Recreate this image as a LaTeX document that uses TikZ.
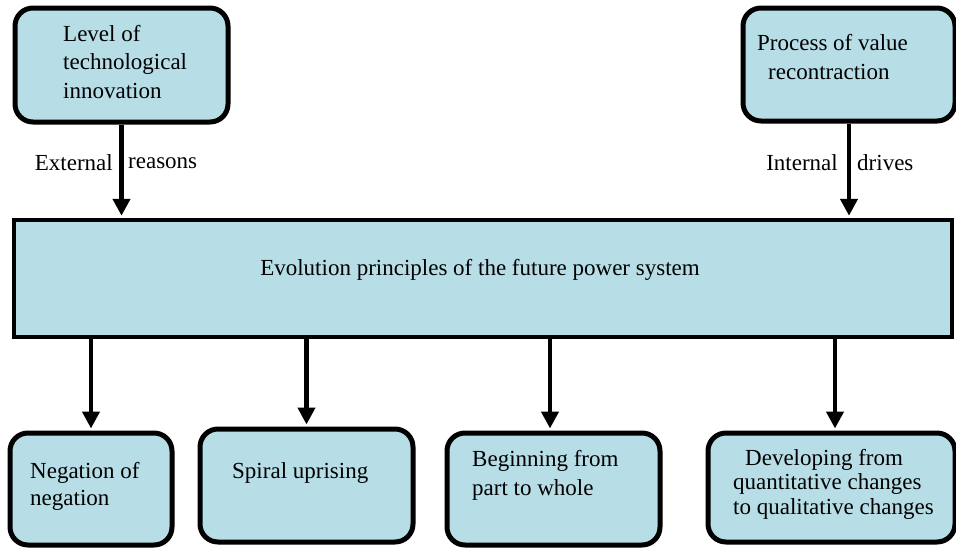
\documentclass[tikz,border=0pt]{standalone}
\usepackage{fontspec}
\setmainfont{Liberation Serif}
\usetikzlibrary{arrows.meta}
\definecolor{boxfill}{RGB}{183,221,230}
\begin{document}
\begin{tikzpicture}[x=1pt,y=-1pt,
  roundbox/.style={draw=black, fill=boxfill, line width=5pt, rounded corners=18pt,
    inner sep=0pt, minimum width=#1},
  mainbox/.style={draw=black, fill=boxfill, line width=4.5pt, inner sep=0pt},
  txt/.style={inner sep=0pt, align=left, anchor=west},
  arr/.style={line width=4.5pt, -{Triangle[length=17pt,width=17pt]}, shorten >=2pt},
  lbl/.style={inner sep=0pt, font=\fontsize{23}{27}\selectfont}
]
\useasboundingbox (0,0) rectangle (956,547);

% source boxes
\node[roundbox=213pt, minimum height=114pt] (tech) at (121.5,65) {};
\node[roundbox=212pt, minimum height=113pt] (value) at (849,64.5) {};

% central principle box
\node[mainbox, minimum width=938pt, minimum height=117pt] (main) at (483,278.5) {};

% resulting principles
\node[roundbox=162pt, minimum height=112pt] (neg) at (91,489) {};
\node[roundbox=213pt, minimum height=113pt] (spiral) at (306.5,485.5) {};
\node[roundbox=213pt, minimum height=112pt] (part) at (553.5,489) {};
\node[roundbox=247pt, minimum height=109pt] (quant) at (831.5,487.5) {};

% box texts
\node[txt, font=\fontsize{23}{28.5}\selectfont] at (63,62) {Level of\\technological\\innovation};
\node[txt, font=\fontsize{23}{29}\selectfont] at (757,57.5) {Process of value\\\hspace{11pt}recontraction};
\node[inner sep=0pt, font=\fontsize{23}{27}\selectfont] at (480,270) {Evolution principles of the future power system};
\node[txt, font=\fontsize{23}{27}\selectfont] at (30,486.5) {Negation of\\negation};
\node[txt, font=\fontsize{23}{27}\selectfont] at (232,473) {Spiral uprising};
\node[txt, font=\fontsize{23}{29}\selectfont] at (472,475) {Beginning from\\part to whole};
\node[txt, font=\fontsize{23}{24.5}\selectfont] at (733,484) {\hspace{12pt}Developing from\\quantitative changes\\to qualitative changes};

% driving forces
\draw[arr] (tech.south) -- (tech.south |- main.north);
\draw[arr] (value.south) -- (value.south |- main.north);
\node[lbl, anchor=east] at (113,163) {External};
\node[lbl, anchor=west] at (128,163) {reasons};
\node[lbl, anchor=east] at (838,163) {Internal};
\node[lbl, anchor=west] at (857,163) {drives};

% principles
\draw[arr] (neg.north |- main.south) -- (neg.north);
\draw[arr] (spiral.north |- main.south) -- (spiral.north);
\draw[arr] ([xshift=-3.5pt]part.north |- main.south) -- ([xshift=-3.5pt]part.north);
\draw[arr] ([xshift=3.5pt]quant.north |- main.south) -- ([xshift=3.5pt]quant.north);
\end{tikzpicture}
\end{document}
